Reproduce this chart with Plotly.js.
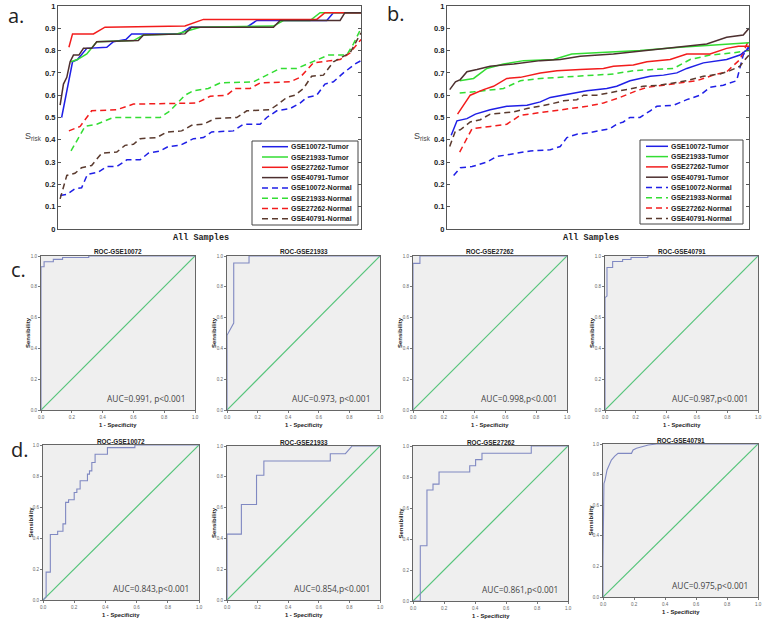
<!DOCTYPE html>
<html><head><meta charset="utf-8">
<script src="https://cdn.plot.ly/plotly-3.0.1.min.js"></script>
<style>html,body{margin:0;padding:0;background:#fff;} #chart{width:765px;height:622px;}</style>
</head><body><div id="chart"></div>
<script>
// ---------- DATA ----------
const seriesNames = ['GSE10072-Tumor','GSE21933-Tumor','GSE27262-Tumor','GSE40791-Tumor',
                     'GSE10072-Normal','GSE21933-Normal','GSE27262-Normal','GSE40791-Normal'];
const yTicks = [0,0.1,0.2,0.3,0.4,0.5,0.6,0.7,0.8,0.9,1];

// Panel a (x = sample rank fraction, y = S_risk)
const a_T10072_x = [0.012,0.048,0.064,0.095,0.161,0.183,0.224,0.243,0.403,0.436,0.623,0.656,0.887,0.909,1.0];
const a_T10072_y = [0.5,0.75,0.76,0.81,0.815,0.84,0.85,0.875,0.875,0.905,0.905,0.935,0.935,0.97,0.97];
const a_T21933_x = [0.043,0.064,0.095,0.128,0.249,0.282,0.392,0.469,0.711,0.744,0.832,0.865,1.0];
const a_T21933_y = [0.75,0.76,0.785,0.84,0.845,0.87,0.875,0.905,0.91,0.935,0.935,0.97,0.97];
const a_T27262_x = [0.036,0.048,0.117,0.155,0.419,0.48,0.854,0.881,1.0];
const a_T27262_y = [0.815,0.875,0.875,0.905,0.91,0.94,0.94,0.97,0.97];
const a_T40791_x = [0.007,0.018,0.029,0.04,0.051,0.069,0.084,0.111,0.128,0.265,0.282,0.419,0.441,0.711,0.733,0.931,0.947,1.0];
const a_T40791_y = [0.555,0.65,0.68,0.75,0.78,0.78,0.81,0.81,0.84,0.845,0.87,0.875,0.905,0.905,0.935,0.935,0.97,0.97];
const a_N10072_x = [0.007,0.029,0.056,0.078,0.097,0.133,0.161,0.194,0.227,0.271,0.298,0.337,0.364,0.403,0.447,0.48,0.507,0.579,0.612,0.667,0.689,0.722,0.766,0.799,0.821,0.854,0.881,0.909,0.942,0.98,1.0];
const a_N10072_y = [0.15,0.155,0.18,0.185,0.245,0.255,0.28,0.28,0.31,0.31,0.34,0.35,0.37,0.375,0.405,0.41,0.435,0.44,0.47,0.47,0.5,0.53,0.54,0.565,0.59,0.6,0.65,0.66,0.7,0.74,0.755];
const a_N21933_x = [0.043,0.073,0.089,0.128,0.183,0.337,0.37,0.419,0.447,0.496,0.535,0.645,0.689,0.733,0.788,0.843,0.893,0.953,0.975,1.0];
const a_N21933_y = [0.35,0.42,0.46,0.47,0.5,0.5,0.53,0.6,0.62,0.63,0.655,0.66,0.69,0.72,0.72,0.75,0.78,0.78,0.83,0.9];
const a_N27262_x = [0.036,0.073,0.111,0.194,0.249,0.458,0.502,0.557,0.584,0.634,0.667,0.766,0.799,0.843,0.898,0.931,0.964,1.0];
const a_N27262_y = [0.44,0.46,0.53,0.535,0.56,0.565,0.595,0.6,0.63,0.63,0.655,0.66,0.68,0.745,0.755,0.76,0.79,0.85];
const a_N40791_x = [0.007,0.029,0.056,0.078,0.111,0.144,0.194,0.221,0.249,0.271,0.326,0.359,0.408,0.441,0.48,0.518,0.59,0.623,0.7,0.727,0.755,0.782,0.81,0.837,0.876,0.909,0.964,1.0];
const a_N40791_y = [0.135,0.24,0.25,0.275,0.285,0.34,0.345,0.375,0.38,0.405,0.41,0.435,0.44,0.465,0.47,0.495,0.5,0.53,0.535,0.56,0.59,0.6,0.63,0.685,0.69,0.75,0.79,0.88];

// Panel b
const b_T10072_x = [0.014,0.033,0.066,0.094,0.143,0.198,0.265,0.309,0.342,0.397,0.463,0.529,0.562,0.606,0.673,0.717,0.761,0.794,0.849,0.926,0.97,1.0];
const b_T10072_y = [0.42,0.485,0.495,0.515,0.535,0.55,0.555,0.57,0.59,0.605,0.62,0.63,0.64,0.665,0.685,0.69,0.7,0.72,0.745,0.76,0.78,0.81];
const b_T21933_x = [0.042,0.088,0.132,0.187,0.254,0.353,0.413,0.496,0.639,0.772,0.882,1.0];
const b_T21933_y = [0.665,0.675,0.72,0.74,0.755,0.76,0.785,0.79,0.8,0.815,0.825,0.835];
const b_T27262_x = [0.035,0.077,0.121,0.154,0.198,0.243,0.309,0.364,0.441,0.518,0.551,0.617,0.662,0.739,0.794,0.871,0.926,0.965,1.0];
const b_T27262_y = [0.515,0.6,0.625,0.64,0.675,0.68,0.7,0.71,0.715,0.72,0.73,0.735,0.75,0.76,0.785,0.785,0.81,0.82,0.82];
const b_T40791_x = [0.009,0.028,0.044,0.066,0.099,0.143,0.221,0.309,0.375,0.441,0.551,0.662,0.772,0.86,0.926,0.981,1.0];
const b_T40791_y = [0.625,0.66,0.67,0.705,0.715,0.73,0.74,0.755,0.76,0.775,0.785,0.8,0.815,0.83,0.86,0.87,0.9];
const b_N10072_x = [0.022,0.044,0.083,0.132,0.165,0.209,0.243,0.276,0.342,0.375,0.397,0.43,0.463,0.507,0.54,0.562,0.584,0.606,0.639,0.673,0.695,0.75,0.794,0.838,0.871,0.915,0.959,0.981,1.0];
const b_N10072_y = [0.24,0.275,0.28,0.3,0.325,0.335,0.34,0.35,0.355,0.37,0.41,0.425,0.43,0.44,0.45,0.47,0.48,0.5,0.5,0.53,0.55,0.555,0.58,0.6,0.635,0.645,0.665,0.78,0.82];
const b_N21933_x = [0.042,0.088,0.187,0.243,0.309,0.441,0.551,0.617,0.75,0.805,0.871,0.948,1.0];
const b_N21933_y = [0.61,0.615,0.63,0.665,0.675,0.685,0.695,0.71,0.72,0.76,0.78,0.79,0.8];
const b_N27262_x = [0.042,0.083,0.143,0.198,0.243,0.298,0.353,0.408,0.463,0.518,0.573,0.628,0.662,0.717,0.772,0.827,0.882,0.926,0.97,1.0];
const b_N27262_y = [0.345,0.45,0.46,0.47,0.51,0.52,0.53,0.54,0.55,0.565,0.59,0.62,0.635,0.645,0.655,0.665,0.69,0.705,0.76,0.85];
const b_N40791_x = [0.009,0.028,0.044,0.077,0.11,0.143,0.221,0.265,0.342,0.386,0.43,0.452,0.496,0.551,0.595,0.65,0.706,0.75,0.794,0.849,0.904,0.937,0.97,0.987,1.0];
const b_N40791_y = [0.37,0.44,0.445,0.48,0.49,0.515,0.525,0.54,0.56,0.575,0.58,0.6,0.6,0.615,0.625,0.64,0.645,0.655,0.665,0.685,0.695,0.71,0.73,0.76,0.78];

// ROC curves (1 - specificity, sensitivity)
const rocTitles = ['ROC-GSE10072','ROC-GSE21933','ROC-GSE27262','ROC-GSE40791',
                   'ROC-GSE10072','ROC-GSE21933','ROC-GSE27262','ROC-GSE40791'];
const rocAuc = ['AUC=0.991, p<0.001','AUC=0.973, p<0.001','AUC=0.998,p<0.001','AUC=0.987,p<0.001',
                'AUC=0.843,p<0.001','AUC=0.854,p<0.001','AUC=0.861,p<0.001','AUC=0.975,p<0.001'];
const c1_fpr = [0,0,0.02,0.02,0.08,0.08,0.14,0.14,0.31,0.31,1];
const c1_tpr = [0,0.93,0.93,0.963,0.963,0.978,0.978,0.99,0.99,1,1];
const c2_fpr = [0,0,0.044,0.044,0.144,0.144,1];
const c2_tpr = [0,0.485,0.565,0.955,0.955,1,1];
const c3_fpr = [0,0,0.045,0.045,1];
const c3_tpr = [0,0.952,0.952,1,1];
const c4_fpr = [0,0,0.013,0.013,0.05,0.05,0.115,0.115,0.17,0.17,0.28,0.28,1];
const c4_tpr = [0,0.73,0.74,0.925,0.925,0.964,0.964,0.977,0.977,0.99,0.99,1,1];
const d1_fpr = [0,0.02,0.02,0.047,0.047,0.094,0.094,0.128,0.128,0.145,0.145,0.164,0.164,0.2,0.2,0.217,0.217,0.238,0.238,0.285,0.285,0.298,0.298,0.313,0.313,0.334,0.334,0.413,0.413,0.589,0.589,1];
const d1_tpr = [0,0.02,0.18,0.18,0.423,0.423,0.444,0.444,0.491,0.491,0.63,0.63,0.647,0.647,0.694,0.694,0.716,0.716,0.769,0.769,0.812,0.812,0.833,0.833,0.887,0.887,0.94,0.94,0.983,0.983,1,1];
const d2_fpr = [0,0,0.094,0.094,0.193,0.193,0.241,0.241,0.675,0.675,0.774,0.818,1];
const d2_tpr = [0,0.428,0.428,0.62,0.62,0.81,0.81,0.903,0.903,0.95,0.95,1,1];
const d3_fpr = [0,0.047,0.047,0.09,0.09,0.129,0.129,0.168,0.168,0.366,0.366,0.404,0.404,0.445,0.445,0.763,0.763,1];
const d3_tpr = [0,0,0.356,0.356,0.716,0.716,0.754,0.754,0.832,0.832,0.873,0.873,0.912,0.912,0.953,0.953,1,1];
const d4_fpr = [0,0,0.006,0.013,0.026,0.043,0.054,0.076,0.097,0.184,0.194,0.216,0.248,0.292,0.346,1];
const d4_tpr = [0,0.24,0.742,0.764,0.83,0.873,0.895,0.921,0.939,0.939,0.961,0.972,0.983,0.993,1,1];
const diagFpr = [0,1];
const diagTpr = [0,1];

// ---------- BUILD ----------
const W = 765, H = 622;
const px = v => v / W, py = v => 1 - v / H;
const colors = ['#1f1fe6','#33dd33','#f21c1c','#4d2f2f','#1f1fe6','#33dd33','#f21c1c','#5a3a2e'];
const DASH = '6px,4px';

const aX = [a_T10072_x,a_T21933_x,a_T27262_x,a_T40791_x,a_N10072_x,a_N21933_x,a_N27262_x,a_N40791_x];
const aY = [a_T10072_y,a_T21933_y,a_T27262_y,a_T40791_y,a_N10072_y,a_N21933_y,a_N27262_y,a_N40791_y];
const bX = [b_T10072_x,b_T21933_x,b_T27262_x,b_T40791_x,b_N10072_x,b_N21933_x,b_N27262_x,b_N40791_x];
const bY = [b_T10072_y,b_T21933_y,b_T27262_y,b_T40791_y,b_N10072_y,b_N21933_y,b_N27262_y,b_N40791_y];
const rocF = [c1_fpr,c2_fpr,c3_fpr,c4_fpr,d1_fpr,d2_fpr,d3_fpr,d4_fpr];
const rocT = [c1_tpr,c2_tpr,c3_tpr,c4_tpr,d1_tpr,d2_tpr,d3_tpr,d4_tpr];

const traces = [];
const order = [4,5,6,7,0,1,2,3];
order.forEach(i => {
  traces.push({type:'scatter', x:aX[i], y:aY[i], xaxis:'x', yaxis:'y', mode:'lines', name:seriesNames[i], showlegend:false,
    line:{color:colors[i], width:1.5, dash: i>=4 ? DASH : 'solid'}, hoverinfo:'skip'});
});
order.forEach(i => {
  traces.push({type:'scatter', x:bX[i], y:bY[i], xaxis:'x2', yaxis:'y2', mode:'lines', name:seriesNames[i], showlegend:false,
    line:{color:colors[i], width:1.5, dash: i>=4 ? DASH : 'solid'}, hoverinfo:'skip'});
});
for (let k = 0; k < 8; k++) {
  const xa = 'x' + (k+3), ya = 'y' + (k+3);
  traces.push({type:'scatter', x:diagFpr, y:diagTpr, xaxis:xa, yaxis:ya, mode:'lines', showlegend:false,
    name:'reference', line:{color:'#55c47a', width:1.2}, hoverinfo:'skip'});
  traces.push({type:'scatter', x:rocF[k], y:rocT[k], xaxis:xa, yaxis:ya, mode:'lines', showlegend:false,
    name:rocTitles[k], line:{color:'#8089c2', width:1.1}, hoverinfo:'skip'});
}

// Layout boxes (pixel positions)
const boxA = {x0:58, x1:361, y0:6, y1:229};
const boxB = {x0:447, x1:749, y0:6, y1:229};
const rocBoxes = [
  {x0:41, x1:195, y0:256, y1:410}, {x0:227, x1:380, y0:256, y1:410},
  {x0:413, x1:567, y0:256, y1:410}, {x0:605, x1:758, y0:256, y1:410},
  {x0:43, x1:199, y0:445, y1:600}, {x0:227, x1:380, y0:446, y1:600},
  {x0:413, x1:568, y0:446, y1:601}, {x0:603, x1:758, y0:444, y1:597}
];

const layout = {
  width: W, height: H, margin:{l:0,r:0,t:0,b:0},
  paper_bgcolor:'#ffffff', plot_bgcolor:'rgba(0,0,0,0)',
  showlegend:false, font:{family:'Arial, Liberation Sans, sans-serif', color:'#222'},
  annotations:[], shapes:[]
};

function mainAxes(box, sx) {
  const xid = 'x' + sx, yid = 'y' + sx;
  layout['xaxis'+sx] = {domain:[px(box.x0), px(box.x1)], range:[0,1], showticklabels:false, ticks:'', anchor:yid,
    showgrid:false, zeroline:false, showline:true, mirror:true, linecolor:'#555', linewidth:1, fixedrange:true};
  layout['yaxis'+sx] = {domain:[py(box.y1), py(box.y0)], range:[0,1], tickvals:yTicks, ticks:'inside', ticklen:3, anchor:xid,
    tickcolor:'#555', showgrid:false, zeroline:false, showline:true, mirror:'ticks', linecolor:'#555', linewidth:1,
    tickfont:{size:7.5, family:'Arial, Liberation Sans, sans-serif', color:'#222', weight:'bold'}, fixedrange:true};
}
mainAxes(boxA, '');
mainAxes(boxB, '2');

rocBoxes.forEach((b, k) => {
  const n = k + 3;
  layout['xaxis'+n] = {domain:[px(b.x0), px(b.x1)], range:[0,1], dtick:0.2, tick0:0, tickformat:'.1f',
    ticks:'outside', ticklen:2, tickcolor:'#777', showgrid:false, zeroline:false, showline:true, mirror:true,
    linecolor:'#666', linewidth:1.2, tickfont:{size:4.5, color:'#666'}, anchor:'y'+n, fixedrange:true};
  layout['yaxis'+n] = {domain:[py(b.y1), py(b.y0)], range:[0,1], dtick:0.2, tick0:0, tickformat:'.1f',
    ticks:'outside', ticklen:2, tickcolor:'#777', showgrid:false, zeroline:false, showline:true, mirror:true,
    linecolor:'#666', linewidth:1.2, tickfont:{size:4.5, color:'#666'}, anchor:'x'+n, fixedrange:true};
  layout.shapes.push({type:'rect', xref:'paper', yref:'paper', x0:px(b.x0), x1:px(b.x1), y0:py(b.y1), y1:py(b.y0),
    fillcolor:'#efefef', line:{width:0}, layer:'below'});
  const cx = (b.x0 + b.x1) / 2, cy = (b.y0 + b.y1) / 2;
  layout.annotations.push({xref:'paper', yref:'paper', x:px(cx), y:py(b.y0 - 4), text:rocTitles[k], showarrow:false,
    xanchor:'center', yanchor:'middle', font:{size:6.4, color:'#222', weight:'bold'}});
  layout.annotations.push({xref:'paper', yref:'paper', x:px(cx), y:py(b.y1 + 15), text:'1 - Specificity', showarrow:false,
    xanchor:'center', yanchor:'middle', font:{size:5.8, color:'#222', weight:'bold'}});
  layout.annotations.push({xref:'paper', yref:'paper', x:px(b.x0 - 13), y:py(cy), text:'Sensibility', showarrow:false,
    textangle:-90, xanchor:'center', yanchor:'middle', font:{size:6, color:'#222', weight:'bold'}});
  layout.annotations.push({xref:'paper', yref:'paper', x:px(b.x1 - 8), y:py(b.y1 - 12), text:rocAuc[k], showarrow:false,
    xanchor:'right', yanchor:'middle', font:{size:8.4, color:'#444', family:'Open Sans, sans-serif'}});
});

// Panel letters & titles
const letters = [['a.',6,16],['b.',385,14],['c.',9,269],['d.',9,449]];
letters.forEach(l => layout.annotations.push({xref:'paper', yref:'paper', x:px(l[1]), y:py(l[2]), text:l[0],
  showarrow:false, xanchor:'left', yanchor:'middle', font:{size:20, family:'Open Sans, sans-serif', color:'#222'}}));
[[201, 33],[591, 422]].forEach(t => {
  layout.annotations.push({xref:'paper', yref:'paper', x:px(t[0]), y:py(238), text:'All Samples', showarrow:false,
    xanchor:'center', yanchor:'middle', font:{size:8.5, family:'Liberation Mono, Courier New, monospace', color:'#222', weight:'bold'}});
  layout.annotations.push({xref:'paper', yref:'paper', x:px(t[1]), y:py(136), text:'S<sub>risk</sub>', showarrow:false,
    xanchor:'center', yanchor:'middle', font:{size:9, color:'#444'}});
});

// Compact legends (MATLAB style)
function legend(bx, lx0, lx1, tx, y0, step) {
  layout.shapes.push({type:'rect', xref:'paper', yref:'paper', x0:px(bx.x0), x1:px(bx.x1), y0:py(bx.y1), y1:py(bx.y0),
    fillcolor:'#ffffff', line:{color:'#444', width:1}, layer:'above'});
  seriesNames.forEach((nm, i) => {
    const yy = y0 + i * step;
    layout.shapes.push({type:'line', xref:'paper', yref:'paper', x0:px(lx0), x1:px(lx1), y0:py(yy), y1:py(yy),
      line:{color:colors[i], width:1.5, dash: i>=4 ? DASH : 'solid'}, layer:'above'});
    layout.annotations.push({xref:'paper', yref:'paper', x:px(tx), y:py(yy), text:nm, showarrow:false,
      xanchor:'left', yanchor:'middle', font:{size:7, color:'#222', weight:'bold'}});
  });
}
legend({x0:252, x1:358, y0:141, y1:225}, 262, 288, 289, 146.7, 10.3);
legend({x0:640, x1:743, y0:140, y1:224}, 646, 668, 669, 146.3, 10.3);

Plotly.newPlot('chart', traces, layout, {displayModeBar:false, staticPlot:true});
</script></body></html>
